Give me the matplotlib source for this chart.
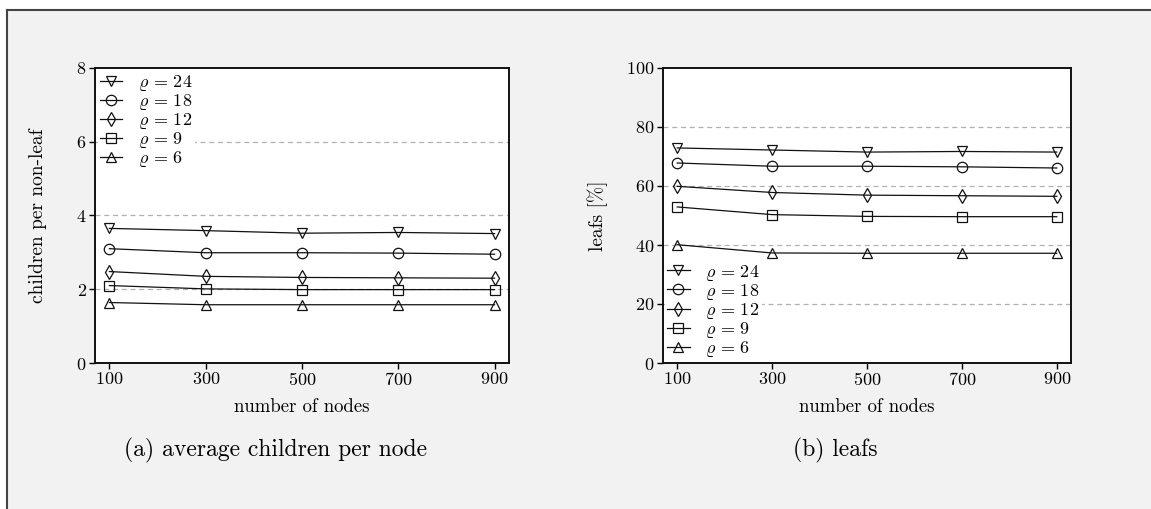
import matplotlib
matplotlib.use("Agg")
import matplotlib.pyplot as plt
from matplotlib.lines import Line2D
from matplotlib.patches import Rectangle

plt.rcParams['font.family'] = ['cmr10', 'DejaVu Serif']
plt.rcParams['mathtext.fontset'] = 'cm'
plt.rcParams['axes.formatter.use_mathtext'] = True

nodes = [100, 300, 500, 700, 900]
rho_labels = [r'$\varrho\,=\,24$', r'$\varrho\,=\,18$', r'$\varrho\,=\,12$', r'$\varrho\,=\,9$', r'$\varrho\,=\,6$']
markers = ['v', 'o', 'd', 's', '^']

children_24 = [3.65, 3.59, 3.52, 3.54, 3.51]
children_18 = [3.10, 2.99, 2.99, 2.98, 2.95]
children_12 = [2.48, 2.35, 2.32, 2.31, 2.30]
children_9 = [2.10, 2.01, 1.99, 1.99, 1.99]
children_6 = [1.64, 1.58, 1.58, 1.58, 1.58]

leafs_24 = [72.9, 72.2, 71.5, 71.7, 71.5]
leafs_18 = [67.8, 66.7, 66.7, 66.5, 66.1]
leafs_12 = [59.9, 57.8, 56.9, 56.7, 56.5]
leafs_9 = [52.9, 50.3, 49.7, 49.6, 49.6]
leafs_6 = [40.1, 37.3, 37.2, 37.2, 37.2]

children = [children_24, children_18, children_12, children_9, children_6]
leafs = [leafs_24, leafs_18, leafs_12, leafs_9, leafs_6]

W, H = 1151, 509
fig = plt.figure(figsize=(W / 100, H / 100), dpi=100)
fig.patch.set_facecolor('white')

# panel background and border
fig.add_artist(Rectangle((7 / W, 0), 1 - 7 / W, 1 - 10 / H, transform=fig.transFigure,
                         facecolor='#f2f2f2', edgecolor='none', zorder=-10))
fig.add_artist(Line2D([7 / W, 7 / W], [0, 1 - 10 / H], transform=fig.transFigure, color='#444444', lw=1.5))
fig.add_artist(Line2D([7 / W, 1], [1 - 10 / H, 1 - 10 / H], transform=fig.transFigure, color='#444444', lw=1.5))


def make_axes(left, right, top=68, bottom=363):
    return fig.add_axes([left / W, (H - bottom) / H, (right - left) / W, (bottom - top) / H])


def style(ax, ylim, yticks, ylabel, gridvals, ylabel_x):
    ax.set_facecolor('white')
    ax.set_xlim(70, 930)
    ax.set_ylim(*ylim)
    ax.set_xticks(nodes)
    ax.set_yticks(yticks)
    for g in gridvals:
        ax.axhline(g, color='#b0b0b0', lw=0.9, ls=(0, (4, 3)), zorder=0)
    ax.tick_params(direction='out', length=4, width=1, labelsize=13, top=False, right=False, pad=2)
    for s in ax.spines.values():
        s.set_linewidth(1.4)
        s.set_color('#111111')
        s.set_zorder(10)
    ax.set_xlabel('number of nodes', fontsize=13.5, labelpad=7)
    ax.set_ylabel(ylabel, fontsize=14)
    ax.yaxis.set_label_coords(ylabel_x, 0.5)


def add_legend(ax, loc, pad):
    leg = ax.legend(loc=loc, fontsize=13, frameon=True, framealpha=1, edgecolor='none',
                    facecolor='white', borderaxespad=pad, handlelength=1.25, labelspacing=-0.05,
                    handletextpad=0.85, borderpad=0.12, fancybox=False)
    leg.set_zorder(5)
    return leg


axL = make_axes(95, 509)
for vals, m, lab in zip(children, markers, rho_labels):
    axL.plot(nodes, vals, color='#111111', lw=0.9, marker=m, markersize=7.5,
             markerfacecolor='none', markeredgecolor='#111111', markeredgewidth=0.9, label=lab)
style(axL, (0, 8), [0, 2, 4, 6, 8], 'children per non-leaf', [2, 4, 6], (47 - 95) / 414)
add_legend(axL, 'upper left', 0.15)

axR = make_axes(663, 1071)
for vals, m, lab in zip(leafs, markers, rho_labels):
    axR.plot(nodes, vals, color='#111111', lw=0.9, marker=m, markersize=7.5,
             markerfacecolor='none', markeredgecolor='#111111', markeredgewidth=0.9, label=lab)
style(axR, (0, 100), [0, 20, 40, 60, 80, 100], 'leafs [%]', [20, 40, 60, 80], (608 - 663) / 408)
add_legend(axR, 'lower left', 0.1)

fig.text(275 / W, 1 - 450 / H, '(a) average children per node', fontsize=17, ha='center', va='center')
fig.text(835 / W, 1 - 450 / H, '(b) leafs', fontsize=17, ha='center', va='center')

fig.savefig('out.png', dpi=100, facecolor=fig.get_facecolor())
